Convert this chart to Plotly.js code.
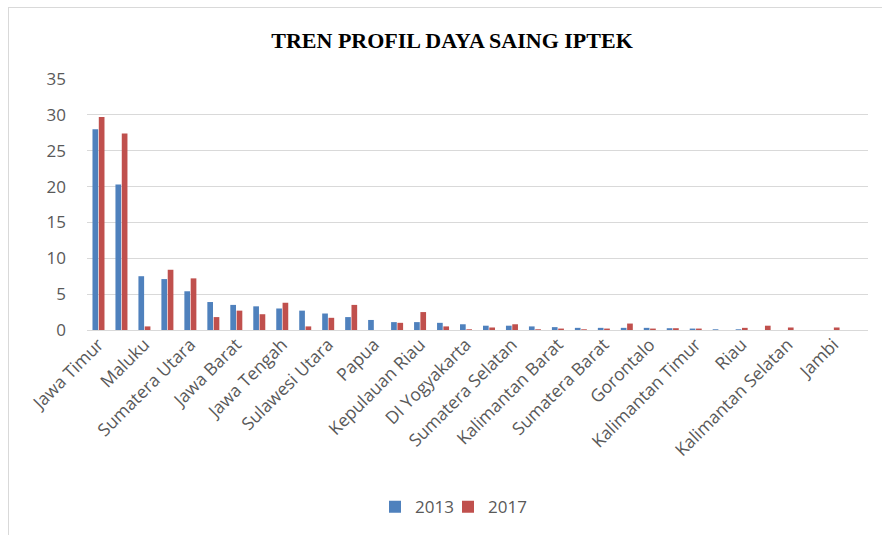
<!DOCTYPE html>
<html>
<head>
<meta charset="utf-8">
<script src="https://cdn.plot.ly/plotly-3.0.1.min.js"></script>
<style>
  html, body { margin: 0; padding: 0; background: #ffffff; overflow: hidden; }
  #chart { width: 882px; height: 535px; position: absolute; left: 0; top: 0; }
  #frame { position: absolute; left: 8px; top: 7px; width: 900px; height: 600px;
           border: 1px solid #d9d9d9; pointer-events: none; }
</style>
</head>
<body>
<div id="chart"></div>
<div id="frame"></div>
<script>
// Categories (34 provinces; only every other one is labelled in the reference)
const provinces = [
  "Jawa Timur", "DKI Jakarta", "Maluku", "Sulawesi Selatan", "Sumatera Utara",
  "Aceh", "Jawa Barat", "Bali", "Jawa Tengah", "Banten",
  "Sulawesi Utara", "Lampung", "Papua", "Sulawesi Tengah", "Kepulauan Riau",
  "Nusa Tenggara Barat", "DI Yogyakarta", "Nusa Tenggara Timur", "Sumatera Selatan", "Bengkulu",
  "Kalimantan Barat", "Sulawesi Tenggara", "Sumatera Barat", "Maluku Utara", "Gorontalo",
  "Kalimantan Tengah", "Kalimantan Timur", "Papua Barat", "Riau", "Sulawesi Barat",
  "Kalimantan Selatan", "Kepulauan Bangka Belitung", "Jambi", "Kalimantan Utara"
];

// Series values
const values2013 = [
  28.0, 20.3, 7.5, 7.1, 5.4,
  3.9, 3.5, 3.3, 3.0, 2.7,
  2.3, 1.8, 1.4, 1.1, 1.1,
  1.0, 0.8, 0.6, 0.6, 0.5,
  0.4, 0.3, 0.3, 0.3, 0.3,
  0.25, 0.2, 0.1, 0.1, 0.0,
  0.0, 0.0, 0.0, 0.0
];
const values2017 = [
  29.7, 27.4, 0.5, 8.4, 7.2,
  1.8, 2.7, 2.2, 3.8, 0.5,
  1.7, 3.5, 0.0, 1.0, 2.5,
  0.5, 0.1, 0.35, 0.8, 0.1,
  0.2, 0.1, 0.2, 0.9, 0.2,
  0.25, 0.2, 0.0, 0.3, 0.6,
  0.35, 0.0, 0.35, 0.0
];

// Tick labels shown on the x axis
const shownLabels = [
  "Jawa Timur", "Maluku", "Sumatera Utara", "Jawa Barat", "Jawa Tengah",
  "Sulawesi Utara", "Papua", "Kepulauan Riau", "DI Yogyakarta", "Sumatera Selatan",
  "Kalimantan Barat", "Sumatera Barat", "Gorontalo", "Kalimantan Timur", "Riau",
  "Kalimantan Selatan", "Jambi"
];
const yTicks = [0, 5, 10, 15, 20, 25, 30, 35];

const textColor = "#595959";
const gridColor = "#d9d9d9";
const font = "Open Sans, Liberation Sans, sans-serif";

const traces = [
  { type: "bar", name: "2013", x: provinces, y: values2013,
    marker: { color: "#4f81bd" }, legend: "legend" },
  { type: "bar", name: "2017", x: provinces, y: values2017,
    marker: { color: "#c0504d" }, legend: "legend2" }
];

const legendBase = {
  orientation: "h",
  xref: "container", yref: "container",
  xanchor: "left",
  y: 0.052, yanchor: "middle",
  font: { family: font, size: 17, color: textColor },
  itemwidth: 30
};

const layout = {
  width: 882, height: 535,
  paper_bgcolor: "rgba(0,0,0,0)",
  plot_bgcolor: "rgba(0,0,0,0)",
  margin: { l: 87, r: 14, t: 79, b: 205 },
  barmode: "group",
  bargap: 0.45,
  bargroupgap: 0.1,
  title: {
    text: "TREN PROFIL DAYA SAING IPTEK",
    font: { family: "Liberation Serif, Times New Roman, serif", size: 22, color: "#000000", weight: "bold" },
    xref: "container", yref: "container",
    x: 0.5125, xanchor: "center", y: 0.925, yanchor: "middle"
  },
  xaxis: {
    type: "category",
    tickmode: "array",
    tickvals: shownLabels,
    ticktext: shownLabels,
    tickangle: -45,
    tickfont: { family: font, size: 17.5, color: textColor },
    showgrid: false,
    showline: false,
    ticks: "",
    automargin: false
  },
  yaxis: {
    range: [0, 35],
    tickmode: "array",
    tickvals: yTicks,
    tickfont: { family: font, size: 17, color: textColor },
    gridcolor: gridColor,
    gridwidth: 1,
    zeroline: true,
    zerolinecolor: gridColor,
    zerolinewidth: 1,
    showline: false,
    ticks: "",
    ticklabelstandoff: 20,
    automargin: false
  },
  showlegend: true,
  legend: Object.assign({}, legendBase, { x: 375 / 882 }),
  legend2: Object.assign({}, legendBase, { x: 448 / 882 })
};

Plotly.newPlot("chart", traces, layout, { displayModeBar: false, staticPlot: true });
</script>
</body>
</html>
